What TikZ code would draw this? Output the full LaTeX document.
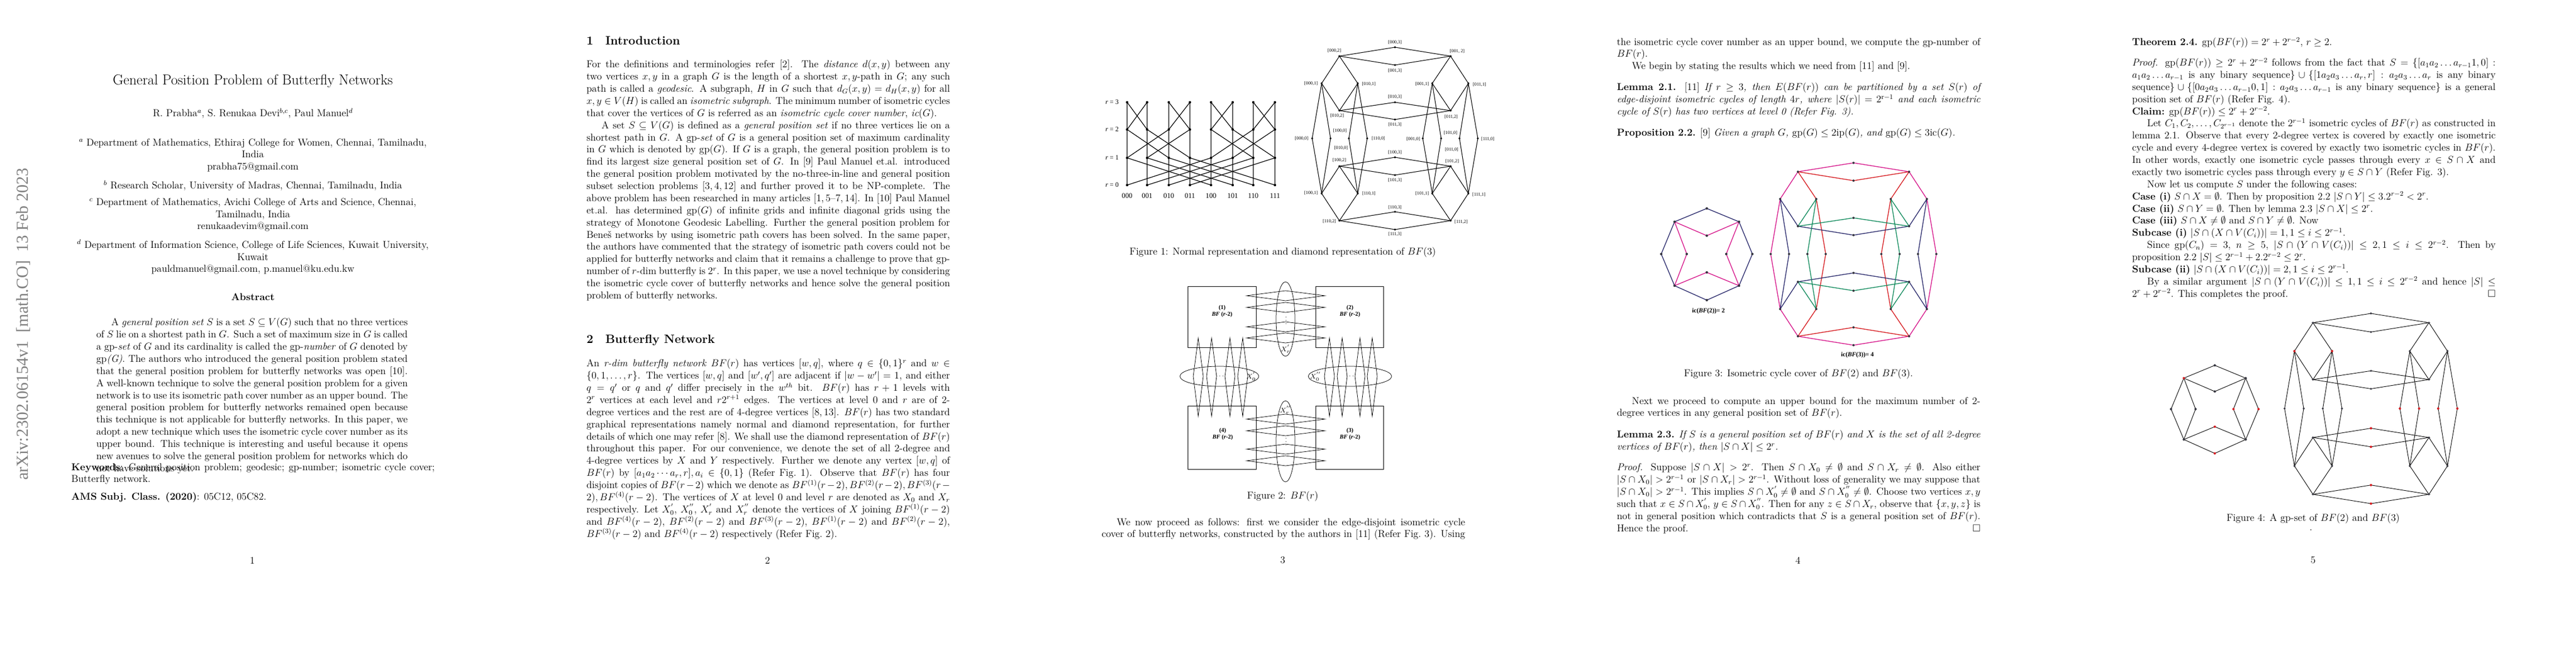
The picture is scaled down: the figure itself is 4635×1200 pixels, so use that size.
\documentclass[tikz,border=0pt]{standalone}
\usepackage{amsmath,amssymb}
\usepackage{fontspec}
\usetikzlibrary{calc}
\newfontfamily\stampfont{Liberation Serif}
\newfontfamily\figfont{Liberation Serif}
\definecolor{cmag}{RGB}{215,25,140}
\definecolor{cred}{RGB}{215,30,35}
\definecolor{cnavy}{RGB}{45,45,110}
\definecolor{cgreen}{RGB}{20,140,95}
\definecolor{dotc}{RGB}{55,55,65}
\tikzset{
 body/.style={anchor=north west,inner sep=0,text width=6in,align=justify,font=\fontsize{12}{14.5}\selectfont},
 one/.style={inner sep=0,font=\fontsize{12}{14.5}\selectfont},
 sect/.style={anchor=west,inner sep=0,font=\Large\bfseries},
 lab/.style={inner sep=0,font=\figfont\fontsize{5.5}{6}\selectfont},
 gedge/.style={line width=0.6pt},
 mag/.style={cmag,line width=0.9pt},
 red/.style={cred,line width=0.9pt},
 nav/.style={cnavy,line width=0.9pt},
 grn/.style={cgreen,line width=0.9pt},
}
\newcommand{\gpp}{\mathrm{gp}}
\newcommand{\bfcoords}[1]{%
 \coordinate (#1-000-3) at (0,-164); \coordinate (#1-000-2) at (-100,-148);
 \coordinate (#1-001-2) at (100,-148); \coordinate (#1-001-3) at (0,-132);
 \coordinate (#1-010-3) at (0,-65); \coordinate (#1-010-2) at (-100,-50);
 \coordinate (#1-011-2) at (100,-50); \coordinate (#1-011-3) at (0,-34);
 \coordinate (#1-100-3) at (0,34); \coordinate (#1-100-2) at (-100,50);
 \coordinate (#1-101-2) at (100,50); \coordinate (#1-101-3) at (0,66);
 \coordinate (#1-110-3) at (0,132); \coordinate (#1-110-2) at (-100,148);
 \coordinate (#1-111-2) at (100,148); \coordinate (#1-111-3) at (0,164);
 \coordinate (#1-000-1) at (-132,-99); \coordinate (#1-010-1) at (-67,-99);
 \coordinate (#1-001-1) at (67,-99); \coordinate (#1-011-1) at (132,-99);
 \coordinate (#1-100-1) at (-132,99); \coordinate (#1-110-1) at (-67,99);
 \coordinate (#1-101-1) at (67,99); \coordinate (#1-111-1) at (132,99);
 \coordinate (#1-000-0) at (-149,0); \coordinate (#1-100-0) at (-116,0);
 \coordinate (#1-010-0) at (-83,0); \coordinate (#1-110-0) at (-50,0);
 \coordinate (#1-001-0) at (50,0); \coordinate (#1-101-0) at (83,0);
 \coordinate (#1-011-0) at (116,0); \coordinate (#1-111-0) at (149,0);}
\newcommand{\bfedges}[2]{%
 \foreach \p in {00,01,10,11}{\draw[#2] (#1-\p0-2)--(#1-\p0-3)--(#1-\p1-2)--(#1-\p1-3)--cycle;}
 \foreach \a in {0,1}{\foreach \b in {0,1}{
   \draw[#2] (#1-\a0\b-1)--(#1-\a0\b-2) (#1-\a0\b-1)--(#1-\a1\b-2) (#1-\a1\b-1)--(#1-\a1\b-2) (#1-\a1\b-1)--(#1-\a0\b-2);}}
 \foreach \q in {00,01,10,11}{
   \draw[#2] (#1-0\q-1)--(#1-0\q-0)--(#1-1\q-1)--(#1-1\q-0)--cycle;}}
\newcommand{\bftwo}[1]{%
 \coordinate (#1-t) at (0,-82); \coordinate (#1-l1) at (-58,-58); \coordinate (#1-r1) at (58,-58);
 \coordinate (#1-m1) at (0,-33); \coordinate (#1-a) at (-82,0); \coordinate (#1-b) at (-36,0);
 \coordinate (#1-c) at (35,0); \coordinate (#1-d) at (82,0); \coordinate (#1-m2) at (0,33);
 \coordinate (#1-l2) at (-58,57); \coordinate (#1-r2) at (58,57); \coordinate (#1-bt) at (0,83);}
\begin{document}
\begin{tikzpicture}[x=0.663pt,y=-0.663pt]
\useasboundingbox (0,0) rectangle (4635,1200);
\fill[white] (0,0) rectangle (4635,1200);
%================ PAGE 1
\begin{scope}
\node[rotate=90,inner sep=0,text=black!50,font=\stampfont\fontsize{20}{20}\selectfont] (stamp) at (42,583) {arXiv:2302.06154v1\ \ [math.CO]\ \ 13 Feb 2023};
\node[inner sep=0,font=\LARGE] (title) at (455,146) {General Position Problem of Butterfly Networks};
\node[inner sep=0,font=\large] (auth) at (455,204) {R. Prabha$^a$, S. Renukaa Devi$^{b,c}$, Paul Manuel$^d$};
\node[one,anchor=north,align=center] (affa) at (455,249) {$^a$ Department of Mathematics, Ethiraj College for Women, Chennai, Tamilnadu,\\ India\\ prabha75@gmail.com};
\node[one] (affb) at (455,334) {$^b$ Research Scholar, University of Madras, Chennai, Tamilnadu, India};
\node[one,anchor=north,align=center] (affc) at (455,356) {$^c$ Department of Mathematics, Avichi College of Arts and Science, Chennai,\\ Tamilnadu, India\\ renukaadevim@gmail.com};
\node[one,anchor=north,align=center] (affd) at (455,431) {$^d$ Department of Information Science, College of Life Sciences, Kuwait University,\\ Kuwait\\ pauldmanuel@gmail.com, p.manuel@ku.edu.kw};
\node[inner sep=0,font=\fontsize{12}{14.5}\selectfont\bfseries] (abh) at (455,534) {Abstract};
\node[anchor=north west,inner sep=0,text width=5.14in,align=justify,font=\fontsize{12}{14.5}\selectfont] (abs) at (173,572) {\hspace*{1.5em}A \textit{general position set} $S$ is a set $S\subseteq V(G)$ such that no three vertices of $S$ lie on a shortest path in $G$. Such a set of maximum size in $G$ is called a gp-\textit{set} of $G$ and its cardinality is called the gp-\textit{number} of $G$ denoted by gp\textit{(G)}. The authors who introduced the general position problem stated that the general position problem for butterfly networks was open [10]. A well-known technique to solve the general position problem for a given network is to use its isometric path cover number as an upper bound. The general position problem for butterfly networks remained open because this technique is not applicable for butterfly networks. In this paper, we adopt a new technique which uses the isometric cycle cover number as its upper bound. This technique is interesting and useful because it opens new avenues to solve the general position problem for networks which do not have solutions yet.};
\node[body] (kw) at (128,833) {\textbf{Keywords}: General position problem; geodesic; gp-number; isometric cycle cover; Butterfly network.};
\node[one,anchor=west] (ams) at (128,895) {\textbf{AMS Subj. Class. (2020)}: 05C12, 05C82.};
\node[one] (pn1) at (454,1008) {1};
\end{scope}
%================ PAGE 2
\begin{scope}[shift={(927,0)}]
\node[sect] (s1) at (128,73) {1\quad Introduction};
\node[body] (intro) at (128,108) {For the definitions and terminologies refer [2]. The \textit{distance} $d(x,y)$ between any two vertices $x,y$ in a graph $G$ is the length of a shortest $x,y$-path in $G$; any such path is called a \textit{geodesic}. A subgraph, $H$ in $G$ such that $d_G(x,y)=d_H(x,y)$ for all $x,y\in V(H)$ is called an \textit{isometric subgraph}. The minimum number of isometric cycles that cover the vertices of $G$ is referred as an \textit{isometric cycle cover number}, \textit{ic}$(G)$.\par
\hspace*{1.5em}A set $S\subseteq V(G)$ is defined as a \textit{general position set} if no three vertices lie on a shortest path in $G$. A gp-\textit{set} of $G$ is a general position set of maximum cardinality in $G$ which is denoted by gp$(G)$. If $G$ is a graph, the general position problem is to find its largest size general position set of $G$. In [9] Paul Manuel et.al. introduced the general position problem motivated by the no-three-in-line and general position subset selection problems [3,\,4,\,12] and further proved it to be NP-complete. The above problem has been researched in many articles [1,\,5--7,\,14]. In [10] Paul Manuel et.al. has determined gp$(G)$ of infinite grids and infinite diagonal grids using the strategy of Monotone Geodesic Labelling. Further the general position problem for Bene\v{s} networks by using isometric path covers has been solved. In the same paper, the authors have commented that the strategy of isometric path covers could not be applied for butterfly networks and claim that it remains a challenge to prove that gp-number of $r$-dim butterfly is $2^r$. In this paper, we use a novel technique by considering the isometric cycle cover of butterfly networks and hence solve the general position problem of butterfly networks.};
\node[sect] (s2) at (128,612) {2\quad Butterfly Network};
\node[body] (bfn) at (128,646) {An \textit{r-dim butterfly network} $BF(r)$ has vertices $[w,q]$, where $q\in\{0,1\}^r$ and $w\in\{0,1,\ldots,r\}$. The vertices $[w,q]$ and $[w',q']$ are adjacent if $|w-w'|=1$, and either $q=q'$ or $q$ and $q'$ differ precisely in the $w^{th}$ bit. $BF(r)$ has $r+1$ levels with $2^r$ vertices at each level and $r2^{r+1}$ edges. The vertices at level 0 and $r$ are of 2-degree vertices and the rest are of 4-degree vertices [8,\,13]. $BF(r)$ has two standard graphical representations namely normal and diamond representation, for further details of which one may refer [8]. We shall use the diamond representation of $BF(r)$ throughout this paper. For our convenience, we denote the set of all 2-degree and 4-degree vertices by $X$ and $Y$ respectively. Further we denote any vertex $[w,q]$ of $BF(r)$ by $[a_1a_2\cdots a_r,r], a_i\in\{0,1\}$ (Refer Fig.~1). Observe that $BF(r)$ has four disjoint copies of $BF(r-2)$ which we denote as $BF^{(1)}(r-2), BF^{(2)}(r-2), BF^{(3)}(r-2), BF^{(4)}(r-2)$. The vertices of $X$ at level 0 and level $r$ are denoted as $X_0$ and $X_r$ respectively. Let $X_0^{'}$, $X_0^{''}$, $X_r^{'}$ and $X_r^{''}$ denote the vertices of $X$ joining $BF^{(1)}(r-2)$ and $BF^{(4)}(r-2)$, $BF^{(2)}(r-2)$ and $BF^{(3)}(r-2)$, $BF^{(1)}(r-2)$ and $BF^{(2)}(r-2)$, $BF^{(3)}(r-2)$ and $BF^{(4)}(r-2)$ respectively (Refer Fig.~2).};
\node[one] (pn2) at (454,1008) {2};
\end{scope}
%================ PAGE 3
\begin{scope}[shift={(1854,0)}]
\foreach \c/\x in {0/174,1/210,2/249,3/287,4/325,5/364,6/401,7/440}{
  \foreach \r/\y in {3/184,2/233,1/284,0/333}{\coordinate (N\c-\r) at (\x,\y);}}
\foreach \i/\a/\b/\c in {0/4/2/1,1/5/3/0,2/6/0/3,3/7/1/2,4/0/6/5,5/1/7/4,6/2/4/7,7/3/5/6}{
  \draw[line width=0.8pt] (N\i-0)--(N\i-1)--(N\i-2)--(N\i-3) (N\i-0)--(N\a-1) (N\i-1)--(N\b-2) (N\i-2)--(N\c-3);
  \foreach \r in {0,1,2,3}{\fill (N\i-\r) circle (2.2);}}
\foreach \r/\y in {3/184,2/233,1/284,0/333}{\node[inner sep=0,font=\figfont\fontsize{8}{8}\selectfont] (rl\r) at (147,\y) {\textit{r} = \r};}
\foreach \c/\t in {0/000,1/001,2/010,3/011,4/100,5/101,6/110,7/111}{\node[inner sep=0,font=\figfont\fontsize{8.5}{9}\selectfont] (cl\c) at ($(N\c-0)+(0,19)$) {\t};}
\begin{scope}[shift={(656,249)}]
\bfcoords{D}
\bfedges{D}{line width=0.7pt}
\foreach \v in {000,001,010,011,100,101,110,111}{\foreach \w in {0,1,2,3}{\fill (D-\v-\w) circle (1.8);}}
\end{scope}
\foreach \t/\x/\y in {{[000,3]}/656/76,{[000,2]}/547/91,{[001, 2]}/768/92,{[001,3]}/656/127,{[000,1]}/505/150,{[010,1]}/609/151,{[001,1]}/705/151,{[011,1]}/808/152,{[010,3]}/656/174,{[010,2]}/552/208,{[011,2]}/757/210,{[011,3]}/656/224,{[100,0]}/557/235,{[000,0]}/488/249,{[110,0]}/626/249,{[001,0]}/689/250,{[101,0]}/756/239,{[111,0]}/823/250,{[010,0]}/559/266,{[011,0]}/758/269,{[100,3]}/656/274,{[100,2]}/556/288,{[101,2]}/759/290,{[101,3]}/656/324,{[100,1]}/505/347,{[110,1]}/609/348,{[101,1]}/705/348,{[111,1]}/807/350,{[110,3]}/656/373,{[110,2]}/538/398,{[111,2]}/775/399,{[111,3]}/656/421}{
  \node[lab] at (\x,\y) {\t};}
\node[one] (cap1) at (454,454) {Figure 1: Normal representation and diamond representation of $BF(3)$};
\draw[line width=0.6pt] (283,515) rectangle (406,625);
\draw[line width=0.6pt] (513,515) rectangle (635,625);
\draw[line width=0.6pt] (283,730) rectangle (406,844);
\draw[line width=0.6pt] (513,730) rectangle (635,844);
\draw[line width=0.5pt] (459,574) ellipse (17 and 67);
\draw[line width=0.5pt] (459,794) ellipse (17 and 73);
\draw[line width=0.5pt] (340,677) ellipse (71 and 18);
\draw[line width=0.5pt] (575,677) ellipse (75 and 18);
\foreach \y in {532,553,588,608,754,775,808,829}{
  \draw[line width=0.5pt] (389,\y)--(459,\y-9)--(530,\y)--(459,\y+9)--cycle;}
\foreach \x in {302,326,359,382,538,561,593,615}{
  \draw[line width=0.5pt] (\x,608)--(\x-9,677)--(\x,749)--(\x+9,677)--cycle;}
\node[inner sep=0,font=\scriptsize] (vd1) at (460,572) {$\vdots$};
\node[inner sep=0,font=\scriptsize] (vd2) at (460,790) {$\vdots$};
\node[inner sep=0,font=\scriptsize] (hd1) at (342,677) {$\cdots$};
\node[inner sep=0,font=\scriptsize] (hd2) at (576,677) {$\cdots$};
\node[inner sep=0,font=\footnotesize] (xr1) at (459,628) {$X_r^{'}$};
\node[inner sep=0,font=\footnotesize] (xr2) at (459,738) {$X_r^{''}$};
\node[inner sep=0,font=\footnotesize] (x01) at (397,677) {$X_0^{'}$};
\node[inner sep=0,font=\footnotesize] (x02) at (513,677) {$X_0^{''}$};
\foreach \n/\x/\y in {1/345/554,2/575/554,4/346/775,3/575/775}{
  \node[inner sep=0,align=center,font=\figfont\fontsize{7}{8}\selectfont\bfseries] at (\x,\y+6) {(\n)\\ \textit{BF} (\textit{r}-2)};}
\node[one] (cap2) at (454,893) {Figure 2: $BF(r)$};
\node[body] (p3) at (128,932) {{\parfillskip=0pt \hspace*{1.5em}We now proceed as follows: first we consider the edge-disjoint isometric cycle cover of butterfly networks, constructed by the authors in [11] (Refer Fig.~3). Using\par}};
\node[one] (pn3) at (454,1008) {3};
\end{scope}
%================ PAGE 4
\begin{scope}[shift={(2781,0)}]
\node[body] (p4a) at (128,68) {the isometric cycle cover number as an upper bound, we compute the gp-number of $BF(r)$.\par
\hspace*{1.5em}We begin by stating the results which we need from [11] and [9].};
\node[body] (lem21) at (128,149) {\textbf{Lemma 2.1.} [11] \textit{If $r\ge 3$, then $E(BF(r))$ can be partitioned by a set $S(r)$ of\linebreak edge-disjoint isometric cycles of length $4r$, where $|S(r)|=2^{\mathrm{r}-1}$ and each isometric\linebreak cycle of $S(r)$ has two vertices at level 0 (Refer Fig. 3).}};
\node[body] (prop22) at (128,231) {\textbf{Proposition 2.2.} [9] \textit{Given a graph $G$, $\gpp(G)\le 2\mathrm{ip}(G)$, and $\gpp(G)\le 3\mathrm{ic}(G)$.}};
\begin{scope}[shift={(290,457)}]
\bftwo{A}
\draw[nav] (A-t)--(A-l1)--(A-a)--(A-l2)--(A-bt)--(A-r2)--(A-d)--(A-r1)--cycle;
\draw[mag] (A-l1)--(A-m1)--(A-r1)--(A-c)--(A-r2)--(A-m2)--(A-l2)--(A-b)--cycle;
\foreach \v in {t,l1,r1,m1,a,b,c,d,m2,l2,r2,bt}{\fill[dotc] (A-\v) circle (2.2);}
\end{scope}
\node[inner sep=0,font=\figfont\fontsize{7.5}{8}\selectfont\bfseries] (ic2) at (293,560) {ic(\textit{BF}(2))= 2};
\begin{scope}[shift={(554,457)}]
\bfcoords{F}
\draw[mag] (F-000-3)--(F-000-2) (F-000-3)--(F-001-2) (F-000-2)--(F-000-1) (F-001-2)--(F-011-1)
  (F-000-1)--(F-000-0)--(F-100-1) (F-011-1)--(F-111-0)--(F-111-1) (F-100-1)--(F-110-2) (F-111-1)--(F-111-2)
  (F-110-2)--(F-111-3)--(F-111-2);
\draw[red] (F-000-2)--(F-001-3)--(F-001-2) (F-000-2)--(F-010-1) (F-001-2)--(F-001-1)
  (F-010-1)--(F-110-0)--(F-110-1) (F-001-1)--(F-001-0)--(F-101-1) (F-110-1)--(F-110-2) (F-101-1)--(F-111-2)
  (F-110-2)--(F-110-3)--(F-111-2);
\draw[nav] (F-000-1)--(F-010-2) (F-011-1)--(F-011-2) (F-010-2)--(F-011-3)--(F-011-2)
  (F-000-1)--(F-100-0)--(F-100-1) (F-011-1)--(F-011-0)--(F-111-1) (F-100-1)--(F-100-2) (F-111-1)--(F-101-2)
  (F-100-2)--(F-100-3)--(F-101-2);
\draw[grn] (F-010-1)--(F-010-2) (F-001-1)--(F-011-2) (F-010-2)--(F-010-3)--(F-011-2)
  (F-010-1)--(F-010-0)--(F-110-1) (F-001-1)--(F-101-0)--(F-101-1) (F-110-1)--(F-100-2) (F-101-1)--(F-101-2)
  (F-100-2)--(F-101-3)--(F-101-2);
\foreach \v in {000,001,010,011,100,101,110,111}{\foreach \w in {0,1,2,3}{\fill[dotc] (F-\v-\w) circle (2);}}
\end{scope}
\node[inner sep=0,font=\figfont\fontsize{7.5}{8}\selectfont\bfseries] (ic3) at (561,639) {ic(\textit{BF}(3))= 4};
\node[one] (cap3) at (455,673) {Figure 3: Isometric cycle cover of $BF(2)$ and $BF(3)$.};
\node[body] (p4b) at (128,714) {\hspace*{1.5em}Next we proceed to compute an upper bound for the maximum number of 2-\linebreak degree vertices in any general position set of $BF(r)$.};
\node[body] (lem23) at (128,774) {\textbf{Lemma 2.3.} \textit{If $S$ is a general position set of $BF(r)$ and $X$ is the set of all 2-degree vertices of $BF(r)$, then $|S\cap X|\le 2^r$.}};
\node[body] (prf23) at (128,833) {\textit{Proof.} Suppose $|S\cap X|>2^r$. Then $S\cap X_0\neq\emptyset$ and $S\cap X_r\neq\emptyset$. Also either\linebreak $|S\cap X_0|>2^{r-1}$ or $|S\cap X_r|>2^{r-1}$. Without loss of generality we may suppose that\linebreak $|S\cap X_0|>2^{r-1}$. This implies $S\cap X_0^{'}\neq\emptyset$ and $S\cap X_0^{''}\neq\emptyset$. Choose two vertices $x,y$\linebreak such that $x\in S\cap X_0^{'}$, $y\in S\cap X_0^{''}$. Then for any $z\in S\cap X_r$, observe that $\{x,y,z\}$ is\linebreak not in general position which contradicts that $S$ is a general position set of $BF(r)$.\linebreak Hence the proof.\hfill$\square$};
\node[one] (pn4) at (454,1008) {4};
\end{scope}
%================ PAGE 5
\begin{scope}[shift={(3708,0)}]
\node[one,anchor=west] (thm) at (128,77) {\textbf{Theorem 2.4.} $\gpp(BF(r))=2^r+2^{r-2}$, $r\ge 2$.};
\node[body] (prf24) at (128,104) {\textit{Proof.} $\gpp(BF(r))\ge 2^r+2^{r-2}$ follows from the fact that $S=\{[a_1a_2\ldots a_{r-1}1,0]:$\linebreak $a_1a_2\ldots a_{r-1}$ is any binary sequence$\}\cup\{[1a_2a_3\ldots a_r,r]:a_2a_3\ldots a_r$ is any binary\linebreak sequence$\}\cup\{[0a_2a_3\ldots a_{r-1}0,1]:a_2a_3\ldots a_{r-1}$ is any binary sequence$\}$ is a general\linebreak position set of $BF(r)$ (Refer Fig. 4).\par
\textbf{Claim:} $\gpp(BF(r))\le 2^r+2^{r-2}$.\par
\hspace*{1.5em}Let $C_1,C_2,\ldots,C_{2^{r-1}}$ denote the $2^{r-1}$ isometric cycles of $BF(r)$ as constructed in lemma 2.1. Observe that every 2-degree vertex is covered by exactly one isometric cycle and every 4-degree vertex is covered by exactly two isometric cycles in $BF(r)$. In other words, exactly one isometric cycle passes through every $x\in S\cap X$ and exactly two isometric cycles pass through every $y\in S\cap Y$ (Refer Fig. 3).\par
\hspace*{1.5em}Now let us compute $S$ under the following cases:\par
\textbf{Case (i)} $S\cap X=\emptyset$. Then by proposition 2.2 $|S\cap Y|\le 3.2^{r-2}<2^r$.\par
\textbf{Case (ii)} $S\cap Y=\emptyset$. Then by lemma 2.3 $|S\cap X|\le 2^r$.\par
\textbf{Case (iii)} $S\cap X\neq\emptyset$ and $S\cap Y\neq\emptyset$. Now\par
\textbf{Subcase (i)} $|S\cap(X\cap V(C_i))|=1,1\le i\le 2^{r-1}$.\par
\hspace*{1.5em}Since $\gpp(C_n)=3$, $n\ge 5$, $|S\cap(Y\cap V(C_i))|\le 2,1\le i\le 2^{r-2}$. Then by\linebreak proposition 2.2 $|S|\le 2^{r-1}+2.2^{r-2}\le 2^r$.\par
\textbf{Subcase (ii)} $|S\cap(X\cap V(C_i))|=2,1\le i\le 2^{r-1}$.\par
\hspace*{1.5em}By a similar argument $|S\cap(Y\cap V(C_i))|\le 1,1\le i\le 2^{r-2}$ and hence $|S|\le$\linebreak $2^r+2^{r-2}$. This completes the proof.\hfill$\square$};
\begin{scope}[shift={(277,736)},scale=0.96]
\bftwo{B}
\draw[gedge] (B-t)--(B-l1)--(B-a)--(B-l2)--(B-bt)--(B-r2)--(B-d)--(B-r1)--cycle;
\draw[gedge] (B-l1)--(B-m1)--(B-r1)--(B-c)--(B-r2)--(B-m2)--(B-l2)--(B-b)--cycle;
\foreach \v in {t,r1,m1,a,b,l2,r2}{\fill[dotc] (B-\v) circle (2.2);}
\foreach \v in {l1,c,d,m2,bt}{\fill[cred] (B-\v) circle (2.2);}
\end{scope}
\begin{scope}[shift={(558,735)},scale=1.043]
\bfcoords{G}
\bfedges{G}{gedge}
\foreach \v in {000,001,010,011,100,101,110,111}{\foreach \w in {0,1,2,3}{\fill[dotc] (G-\v-\w) circle (1.9);}}
\foreach \v in {G-000-1,G-010-1,G-001-0,G-101-0,G-011-0,G-111-0,G-100-3,G-101-3,G-110-3,G-111-3}{\fill[cred] (\v) circle (2);}
\end{scope}
\node[one] (cap4) at (454,933) {Figure 4: A gp-set of $BF(2)$ and $BF(3)$};
\node[one] (dot5) at (450,954) {.};
\node[one] (pn5) at (454,1008) {5};
\end{scope}
\end{tikzpicture}
\end{document}
